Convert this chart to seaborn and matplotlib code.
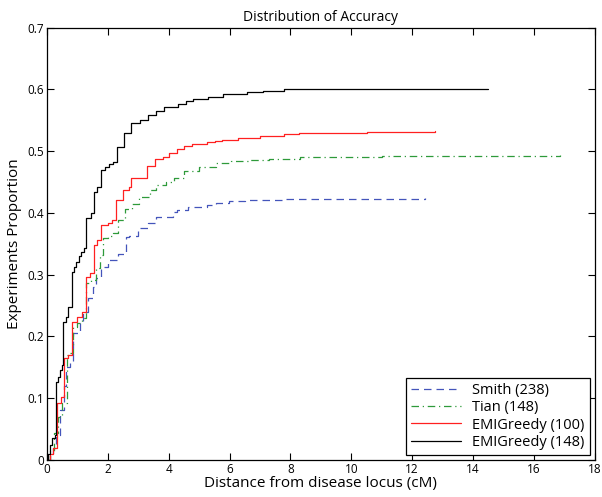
import matplotlib
matplotlib.use("Agg")
import matplotlib.pyplot as plt
import seaborn as sns

# step (CDF) curves
smith_x = [0, 0.1, 0.2, 0.3, 0.42, 0.55, 0.64, 0.75, 0.86, 1.08, 1.2, 1.35, 1.5, 1.62, 1.79, 2.0,
           2.33, 2.6, 2.71, 2.98, 3.31, 3.58, 4.13, 4.26, 4.62, 5.27, 5.54, 5.98, 6.52, 7.83, 12.41]
smith_y = [0, 0.01, 0.02, 0.04, 0.081, 0.12, 0.151, 0.16, 0.205, 0.221, 0.24, 0.262, 0.28, 0.294, 0.313, 0.324,
           0.334, 0.361, 0.362, 0.375, 0.383, 0.394, 0.402, 0.405, 0.41, 0.413, 0.416, 0.42, 0.421, 0.423, 0.424]

tian_x = [0, 0.1, 0.23, 0.35, 0.5, 0.66, 0.77, 0.86, 1.0, 1.15, 1.27, 1.46, 1.6, 1.73, 1.84, 2.0, 2.17,
          2.33, 2.55, 2.8, 3.04, 3.37, 3.58, 3.9, 4.18, 4.51, 5.0, 5.54, 6.04, 6.6, 7.29, 8.32, 9.47, 11.0, 16.87]
tian_y = [0, 0.015, 0.043, 0.07, 0.092, 0.17, 0.173, 0.216, 0.221, 0.23, 0.286, 0.291, 0.31, 0.332, 0.359, 0.362, 0.367,
          0.388, 0.407, 0.415, 0.425, 0.437, 0.445, 0.45, 0.457, 0.468, 0.475, 0.48, 0.484, 0.486, 0.488, 0.49, 0.491, 0.492, 0.493]

emi100_x = [0, 0.1, 0.2, 0.32, 0.45, 0.56, 0.7, 0.81, 1.0, 1.15, 1.27, 1.4, 1.55, 1.65, 1.79, 2.0, 2.15,
            2.28, 2.49, 2.71, 2.77, 3.28, 3.56, 3.8, 4.02, 4.26, 4.51, 4.78, 5.27, 5.52, 5.76, 6.29, 6.52,
            7.0, 7.78, 8.27, 9.0, 10.5, 12.75]
emi100_y = [0, 0.01, 0.02, 0.092, 0.102, 0.165, 0.17, 0.224, 0.232, 0.24, 0.297, 0.302, 0.348, 0.356, 0.38, 0.384, 0.388,
            0.421, 0.437, 0.442, 0.457, 0.476, 0.487, 0.49, 0.497, 0.504, 0.509, 0.511, 0.514, 0.516, 0.518, 0.521, 0.522,
            0.525, 0.528, 0.529, 0.53, 0.531, 0.532]

emi148_x = [0, 0.05, 0.1, 0.15, 0.26, 0.29, 0.37, 0.42, 0.48, 0.53, 0.64, 0.7, 0.81, 0.9, 0.97, 1.05, 1.13,
            1.21, 1.28, 1.46, 1.55, 1.65, 1.79, 1.9, 2.05, 2.17, 2.3, 2.52, 2.77, 3.05, 3.31, 3.58, 3.86,
            4.29, 4.56, 4.8, 5.3, 5.8, 6.57, 7.1, 7.8, 14.5]
emi148_y = [0, 0.01, 0.025, 0.035, 0.04, 0.127, 0.135, 0.146, 0.154, 0.224, 0.232, 0.247, 0.305, 0.313, 0.321, 0.33, 0.337,
            0.343, 0.391, 0.4, 0.434, 0.442, 0.469, 0.474, 0.479, 0.483, 0.507, 0.529, 0.545, 0.55, 0.558, 0.565, 0.572,
            0.577, 0.581, 0.585, 0.588, 0.592, 0.596, 0.598, 0.6, 0.6]

labels = ["Smith (238)", "Tian (148)", "EMIGreedy (100)", "EMIGreedy (148)"]
colors = ["#4455bb", "#2e9a3a", "#ff2020", "#000000"]
styles = [(0, (6, 4)), (0, (6, 3, 1, 3)), "-", "-"]

sns.set_style("ticks")
plt.rcParams["font.family"] = ["Open Sans", "DejaVu Sans"]
plt.rcParams["xtick.direction"] = "in"
plt.rcParams["ytick.direction"] = "in"
plt.rcParams["text.color"] = "black"
plt.rcParams["axes.labelcolor"] = "black"
plt.rcParams["xtick.color"] = "black"
plt.rcParams["ytick.color"] = "black"

fig = plt.figure(figsize=(6.02, 4.97), dpi=100)
ax = fig.add_axes([0.078, 0.0745, 0.91, 0.87])

series = [(smith_x, smith_y), (tian_x, tian_y), (emi100_x, emi100_y), (emi148_x, emi148_y)]
for (xs, ys), lab, c, ls in zip(series, labels, colors, styles):
    sns.lineplot(x=xs, y=ys, ax=ax, color=c, linestyle=ls, linewidth=0.9,
                 drawstyle="steps-post", label=lab, estimator=None, sort=False)

ax.set_xlim(0, 18)
ax.set_ylim(0, 0.7)
ax.set_xticks(range(0, 19, 2))
ax.set_yticks([i / 10 for i in range(8)])
ax.set_yticklabels(["0"] + [f"{i / 10:.1f}" for i in range(1, 8)])
ax.tick_params(axis="both", labelsize=8.5, top=True, right=True, length=5, width=0.8, pad=2)
for s in ax.spines.values():
    s.set_linewidth(0.9)
    s.set_color("black")

ax.set_title("Distribution of Accuracy", fontsize=10, pad=5)
ax.set_xlabel("Distance from disease locus (cM)", fontsize=11, labelpad=0)
ax.set_ylabel("Experiments Proportion", fontsize=11, labelpad=4)

leg = ax.legend(loc="lower right", fontsize=10.5, frameon=True, fancybox=False,
                edgecolor="black", framealpha=1, borderaxespad=0.35,
                handlelength=3.4, borderpad=0.35, labelspacing=0.15)
leg.get_frame().set_linewidth(0.9)

fig.savefig("out.png", dpi=100)
